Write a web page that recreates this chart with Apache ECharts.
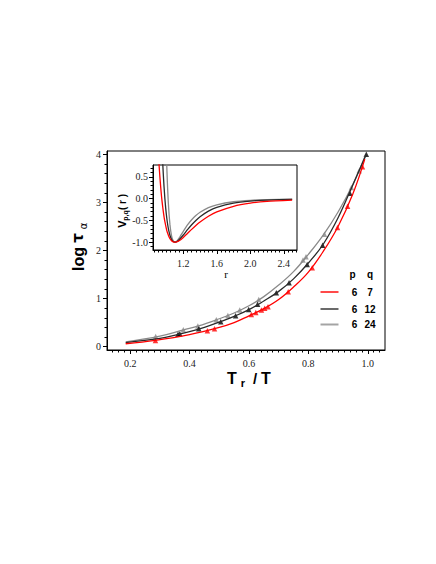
<!DOCTYPE html>
<html>
<head>
<meta charset="utf-8">
<script src="https://cdn.jsdelivr.net/npm/echarts@6/dist/echarts.min.js"></script>
<style>
  html, body { margin: 0; padding: 0; background: #fff; }
  #chart { width: 436px; height: 564px; }
</style>
</head>
<body>
<div id="chart"></div>
<script>
// main plot: log tau_alpha against Tr/T, fitted curves [x, y]
const curve67 = [[0.185, 0.06], [0.285, 0.13], [0.4, 0.25], [0.5, 0.40], [0.55, 0.50], [0.6, 0.64], [0.65, 0.79], [0.7, 0.98], [0.75, 1.24], [0.8, 1.55], [0.85, 1.98], [0.9, 2.5], [0.95, 3.18], [0.99, 3.9]]
const curve612 = [[0.185, 0.085], [0.3, 0.17], [0.36, 0.25], [0.4, 0.31], [0.45, 0.40], [0.5, 0.51], [0.55, 0.63], [0.6, 0.77], [0.65, 0.95], [0.7, 1.15], [0.75, 1.41], [0.8, 1.74], [0.85, 2.13], [0.9, 2.68], [0.95, 3.37], [0.995, 4.0]]
const curve624 = [[0.185, 0.10], [0.3, 0.22], [0.38, 0.35], [0.43, 0.43], [0.5, 0.58], [0.55, 0.70], [0.6, 0.85], [0.65, 1.04], [0.7, 1.28], [0.75, 1.56], [0.8, 1.92], [0.85, 2.32], [0.9, 2.8], [0.95, 3.38], [0.99, 3.95]]

// simulation points (triangles)
const points67 = [[0.285, 0.13], [0.46, 0.33], [0.484, 0.37], [0.608, 0.67], [0.623, 0.71], [0.642, 0.76], [0.653, 0.80], [0.664, 0.83], [0.732, 1.14], [0.813, 1.64], [0.898, 2.48], [0.932, 2.92], [0.982, 3.74]]
const points612 = [[0.361, 0.26], [0.367, 0.27], [0.431, 0.37], [0.505, 0.52], [0.555, 0.64], [0.599, 0.77], [0.629, 0.88], [0.692, 1.12], [0.735, 1.33], [0.796, 1.71], [0.848, 2.11], [0.94, 3.19], [0.995, 4.0]]
const points624 = [[0.286, 0.21], [0.379, 0.35], [0.428, 0.43], [0.49, 0.56], [0.529, 0.65], [0.569, 0.76], [0.633, 0.98], [0.782, 1.8], [0.792, 1.87], [0.854, 2.34], [0.945, 3.31], [0.971, 3.66]]

// inset: V_pq(r) [r, V]
const pot67 = [[0.90, 1.11], [0.91, 0.79], [0.92, 0.51], [0.93, 0.265], [0.94, 0.05], [0.95, -0.126], [0.96, -0.28], [0.97, -0.417], [0.98, -0.53], [1.0, -0.71], [1.01, -0.777], [1.03, -0.88], [1.04, -0.916], [1.06, -0.966], [1.08, -0.992], [1.10, -1.0], [1.12, -0.994], [1.15, -0.966], [1.2, -0.89], [1.25, -0.799], [1.3, -0.706], [1.35, -0.618], [1.4, -0.538], [1.5, -0.405], [1.6, -0.303], [1.8, -0.174], [2.0, -0.102], [2.2, -0.0625], [2.5, -0.032]]
const pot612 = [[0.95, 0.99], [0.96, 0.595], [0.97, 0.27], [0.98, 0.0], [0.99, -0.222], [1.0, -0.405], [1.01, -0.553], [1.02, -0.672], [1.03, -0.765], [1.04, -0.84], [1.06, -0.938], [1.08, -0.986], [1.10, -1.0], [1.12, -0.99], [1.15, -0.945], [1.2, -0.835], [1.25, -0.713], [1.3, -0.599], [1.35, -0.5], [1.4, -0.415], [1.5, -0.287], [1.6, -0.2], [1.8, -0.1015], [2.0, -0.0546], [2.2, -0.031], [2.5, -0.0145]]
const pot624 = [[0.995, 1.27], [1.0, 0.921], [1.005, 0.62], [1.01, 0.36], [1.015, 0.135], [1.02, -0.057], [1.03, -0.36], [1.04, -0.586], [1.05, -0.745], [1.06, -0.854], [1.07, -0.927], [1.08, -0.971], [1.10, -1.0], [1.12, -0.98], [1.13, -0.96], [1.16, -0.876], [1.2, -0.75], [1.25, -0.604], [1.3, -0.483], [1.35, -0.388], [1.4, -0.313], [1.5, -0.207], [1.6, -0.141], [1.8, -0.07], [2.0, -0.037], [2.2, -0.021], [2.5, -0.01]]

// tick labels
const mainXTicks = [0.2, 0.4, 0.6, 0.8, 1.0]
const mainYTicks = [0, 1, 2, 3, 4]
const insetXTicks = [1.2, 1.6, 2.0, 2.4]
const insetYTicks = [-1.0, -0.5, 0.0, 0.5]

// legend rows
const legendP = ['6', '6', '6']
const legendQ = ['7', '12', '24']

const RED = '#ff0000'
const DARK = '#2a2a2a'
const GRAY = '#8a8a8a'

// minor tick positions between the majors
const minorTicks = (from, to, step, majors) => {
  const out = []
  for (let v = from; v <= to + 1e-9; v += step) {
    const r = Math.round(v * 1000) / 1000
    if (!majors.some(m => Math.abs(m - r) < 1e-6)) out.push(r)
  }
  return out
}

const majorAxis = (grid, pos, min, max, ticks, fmt, margin) => ({
  type: 'value', gridIndex: grid, position: pos, min: min, max: max,
  axisLine: { show: true, onZero: false, lineStyle: { color: '#000', width: 1 } },
  axisTick: { show: true, customValues: ticks, length: 4, lineStyle: { color: '#000' } },
  axisLabel: {
    show: true, customValues: ticks, formatter: fmt, margin: margin,
    fontFamily: 'Liberation Serif', fontSize: 10, color: '#222'
  },
  splitLine: { show: false }
})

const minorAxis = (grid, pos, min, max, ticks) => ({
  type: 'value', gridIndex: grid, position: pos, min: min, max: max,
  axisLine: { show: false, onZero: false },
  axisTick: { show: true, customValues: ticks, length: 2.5, lineStyle: { color: '#000' } },
  axisLabel: { show: false },
  splitLine: { show: false }
})

const chart = echarts.init(document.getElementById('chart'), null, { renderer: 'svg' })

const lineSeries = (name, data, color, xi, smooth) => ({
  name: name, type: 'line', data: data, xAxisIndex: xi, yAxisIndex: xi,
  smooth: smooth, symbol: 'none',
  lineStyle: { color: color, width: 1.3 }, silent: true
})

const pointSeries = (name, data, color) => ({
  name: name, type: 'scatter', data: data, xAxisIndex: 0, yAxisIndex: 0,
  symbol: 'triangle', symbolSize: 5.5, itemStyle: { color: color }, silent: true
})

const txt = (text, x, y, font, extra) => Object.assign({
  type: 'text', x: x, y: y,
  style: { text: text, font: font, fill: '#000', align: 'center', verticalAlign: 'middle' }
}, extra || {})

const legendItems = []
const legendColors = ['#ff4a4a', '#6a6a6a', '#a4a4a4']
const legendY = [292, 309, 324.5]
legendItems.push(txt('p', 352.5, 274, 'bold 10px "Liberation Sans"'))
legendItems.push(txt('q', 370, 274, 'bold 10px "Liberation Sans"'))
legendQ.forEach((q, i) => {
  legendItems.push({
    type: 'line', shape: { x1: 320.5, y1: legendY[i], x2: 338.5, y2: legendY[i] },
    style: { stroke: legendColors[i], lineWidth: 2 }
  })
  legendItems.push(txt(legendP[i], 354.5, legendY[i], 'bold 10px "Liberation Sans"'))
  legendItems.push(txt(q, 370, legendY[i], 'bold 10px "Liberation Sans"'))
})

const rot = { rotation: Math.PI / 2 }

const option = {
  animation: false,
  backgroundColor: '#fff',
  grid: [
    { left: 107, top: 151, width: 278, height: 199, show: true, borderColor: '#000', borderWidth: 1, backgroundColor: 'transparent' },
    { left: 153, top: 165, width: 144, height: 85, show: true, borderColor: '#000', borderWidth: 1, backgroundColor: '#fff' }
  ],
  xAxis: [
    majorAxis(0, 'bottom', 0.122, 1.058, mainXTicks, v => v.toFixed(1), 8),
    minorAxis(0, 'bottom', 0.122, 1.058, minorTicks(0.14, 1.04, 0.02, mainXTicks)),
    majorAxis(1, 'bottom', 0.838, 2.558, insetXTicks, v => v.toFixed(1), 8),
    minorAxis(1, 'bottom', 0.838, 2.558, minorTicks(0.85, 2.55, 0.05, insetXTicks))
  ],
  yAxis: [
    majorAxis(0, 'left', -0.07, 4.07, mainYTicks, v => String(v), 6),
    minorAxis(0, 'left', -0.07, 4.07, minorTicks(0, 4, 0.2, mainYTicks)),
    majorAxis(1, 'left', -1.18, 0.775, insetYTicks, v => v.toFixed(1), 5),
    minorAxis(1, 'left', -1.18, 0.775, minorTicks(-1.1, 0.7, 0.1, insetYTicks))
  ],
  series: [
    lineSeries('6 24', curve624, GRAY, 0, 0.4),
    lineSeries('6 12', curve612, DARK, 0, 0.4),
    lineSeries('6 7', curve67, RED, 0, 0.4),
    pointSeries('6 24 sim', points624, GRAY),
    pointSeries('6 12 sim', points612, '#000'),
    pointSeries('6 7 sim', points67, RED),
    lineSeries('V 6 24', pot624, GRAY, 2, 0.2),
    lineSeries('V 6 12', pot612, DARK, 2, 0.2),
    lineSeries('V 6 7', pot67, RED, 2, 0.2)
  ],
  graphic: [
    // x axis title: T_r / T
    txt('T', 232, 378, 'bold 16px "Liberation Sans"'),
    txt('r', 243, 383, 'bold 11px "Liberation Sans"'),
    txt('/', 255, 378, 'bold 15px "Liberation Sans"'),
    txt('T', 266, 378, 'bold 16px "Liberation Sans"'),
    // y axis title: log tau_alpha
    txt('log', 78, 259, 'bold 16px "Liberation Sans"', rot),
    txt('τ', 78, 238, 'bold 15px "DejaVu Sans"', rot),
    txt('α', 83, 226, '10px "DejaVu Sans"', rot),
    // inset titles
    txt('V', 122, 224, 'bold 11px "Liberation Sans"', rot),
    txt('p,q', 125, 215.5, 'bold 7px "Liberation Sans"', rot),
    txt('( r )', 122, 202, 'bold 10px "Liberation Sans"', rot),
    txt('r', 226, 274, '11px "Liberation Serif"'),
    ...legendItems
  ]
}

chart.setOption(option)
</script>
</body>
</html>
